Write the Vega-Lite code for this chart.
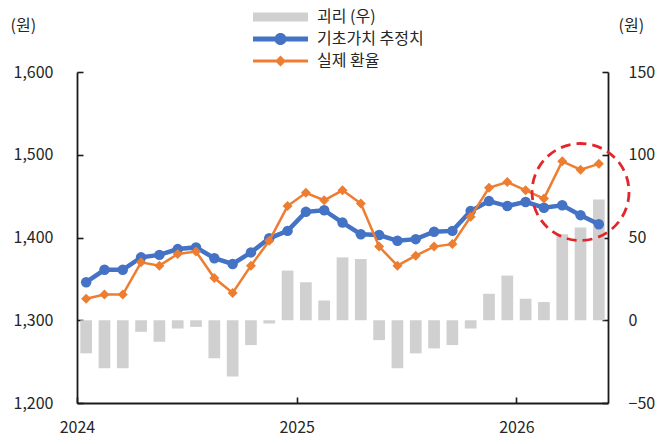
{
  "$schema": "https://vega.github.io/schema/vega-lite/v6.json",
  "width": 531,
  "height": 331,
  "autosize": {"type": "none"},
  "padding": {"left": 77, "top": 72, "right": 58, "bottom": 41},
  "background": "white",
  "config": {
    "font": "Noto Sans CJK KR",
    "view": {"stroke": null},
    "axis": {
      "grid": false,
      "domainColor": "#1a1a1a",
      "domainWidth": 1.8,
      "tickColor": "#1a1a1a",
      "tickWidth": 1.6,
      "labelFont": "Noto Sans CJK KR",
      "labelFontSize": 16,
      "labelColor": "#262626",
      "titleFont": "Noto Sans CJK KR",
      "titleFontSize": 16,
      "titleFontWeight": "normal",
      "titleColor": "#262626"
    }
  },
  "data": {
    "values": [
      {"month": "2024-01", "fund": 1346, "actual": 1326, "gap": -20},
      {"month": "2024-02", "fund": 1361, "actual": 1331, "gap": -29},
      {"month": "2024-03", "fund": 1361, "actual": 1331, "gap": -29},
      {"month": "2024-04", "fund": 1376, "actual": 1370, "gap": -7},
      {"month": "2024-05", "fund": 1379, "actual": 1366, "gap": -13},
      {"month": "2024-06", "fund": 1386, "actual": 1380, "gap": -5},
      {"month": "2024-07", "fund": 1388, "actual": 1383, "gap": -4},
      {"month": "2024-08", "fund": 1375, "actual": 1351, "gap": -23},
      {"month": "2024-09", "fund": 1368, "actual": 1333, "gap": -34},
      {"month": "2024-10", "fund": 1382, "actual": 1366, "gap": -15},
      {"month": "2024-11", "fund": 1399, "actual": 1396, "gap": -2},
      {"month": "2024-12", "fund": 1408, "actual": 1438, "gap": 30},
      {"month": "2025-01", "fund": 1431, "actual": 1454, "gap": 23},
      {"month": "2025-02", "fund": 1433, "actual": 1445, "gap": 12},
      {"month": "2025-03", "fund": 1418, "actual": 1457, "gap": 38},
      {"month": "2025-04", "fund": 1404, "actual": 1441, "gap": 37},
      {"month": "2025-05", "fund": 1403, "actual": 1389, "gap": -12},
      {"month": "2025-06", "fund": 1396, "actual": 1366, "gap": -29},
      {"month": "2025-07", "fund": 1398, "actual": 1378, "gap": -20},
      {"month": "2025-08", "fund": 1407, "actual": 1389, "gap": -17},
      {"month": "2025-09", "fund": 1408, "actual": 1392, "gap": -15},
      {"month": "2025-10", "fund": 1432, "actual": 1425, "gap": -5},
      {"month": "2025-11", "fund": 1444, "actual": 1460, "gap": 16},
      {"month": "2025-12", "fund": 1438, "actual": 1467, "gap": 27},
      {"month": "2026-01", "fund": 1443, "actual": 1457, "gap": 13},
      {"month": "2026-02", "fund": 1436, "actual": 1447, "gap": 11},
      {"month": "2026-03", "fund": 1439, "actual": 1492, "gap": 52},
      {"month": "2026-04", "fund": 1427, "actual": 1482, "gap": 56},
      {"month": "2026-05", "fund": 1416, "actual": 1489, "gap": 73}
    ]
  },
  "encoding": {
    "x": {
      "field": "month",
      "type": "ordinal",
      "scale": {"paddingInner": 0.36, "paddingOuter": 0.18},
      "axis": {
        "values": ["2024-01", "2025-01", "2026-01"],
        "labelExpr": "slice(datum.value, 0, 4)",
        "tickOffset": -9.16,
        "tickSize": -6,
        "labelAngle": 0,
        "labelPadding": 22,
        "title": null
      }
    }
  },
  "layer": [
    {
      "mark": {"type": "bar"},
      "encoding": {
        "y": {
          "field": "gap",
          "type": "quantitative",
          "scale": {"domain": [-50, 150]},
          "axis": {
            "orient": "right",
            "values": [-50, 0, 50, 100, 150],
            "format": "d",
            "tickSize": -6,
            "labelPadding": 26,
            "title": "(원)",
            "titleAngle": 0,
            "titleAlign": "left",
            "titleBaseline": "middle",
            "titleX": 10,
            "titleY": -47
          }
        },
        "color": {
          "datum": "괴리 (우)",
          "scale": {
            "domain": ["괴리 (우)", "기초가치 추정치", "실제 환율"],
            "range": ["#D0D0D0", "#4472C4", "#ED7D31"]
          },
          "legend": {
            "orient": "none",
            "legendX": 176,
            "legendY": -66,
            "title": null,
            "symbolSize": 3025,
            "clipHeight": 22,
            "rowPadding": 0,
            "labelFontSize": 16,
            "labelOffset": 9,
            "labelFont": "Noto Sans CJK KR",
            "labelColor": "#262626",
            "encode": {
              "symbols": {
                "update": {
                  "shape": {"signal": "datum.value === '괴리 (우)' ? 'M-1,-0.16H1V0.16H-1Z' : datum.value === '기초가치 추정치' ? 'M-1,-0.09H1V0.09H-1Z M0.22,0A0.22,0.22 0 1 1 -0.22,0A0.22,0.22 0 1 1 0.22,0Z' : 'M-1,-0.055H1V0.055H-1Z M0,-0.2L0.2,0L0,0.2L-0.2,0Z'"},
                  "fill": {"scale": "color", "field": "value"},
                  "stroke": {"value": "transparent"},
                  "strokeWidth": {"value": 0},
                  "opacity": {"value": 1}
                }
              }
            }
          }
        }
      }
    },
    {
      "layer": [
        {
          "mark": {"type": "line", "strokeWidth": 4.5, "point": {"filled": true, "size": 110, "shape": "circle"}},
          "encoding": {
            "y": {
              "field": "fund",
              "type": "quantitative",
              "scale": {"domain": [1200, 1600]},
              "axis": {
                "orient": "left",
                "values": [1200, 1300, 1400, 1500, 1600],
                "format": ",d",
                "tickSize": -6,
                "labelPadding": 30,
                "title": "(원)",
                "titleAngle": 0,
                "titleAlign": "left",
                "titleBaseline": "middle",
                "titleX": -67,
                "titleY": -47
              }
            },
            "color": {"datum": "기초가치 추정치"}
          }
        },
        {
          "mark": {"type": "line", "strokeWidth": 2.5, "point": {"filled": true, "size": 100, "shape": "diamond"}},
          "encoding": {
            "y": {
              "field": "actual",
              "type": "quantitative",
              "axis": {
                "orient": "left",
                "values": [1200, 1300, 1400, 1500, 1600],
                "format": ",d",
                "tickSize": -6,
                "labelPadding": 30,
                "title": "(원)",
                "titleAngle": 0,
                "titleAlign": "left",
                "titleBaseline": "middle",
                "titleX": -67,
                "titleY": -47
              }
            },
            "color": {"datum": "실제 환율"}
          }
        },
        {
          "data": {"values": [{"month": "2026-04", "level": 1455}]},
          "mark": {"type": "point", "shape": "circle", "size": 9400, "filled": false, "stroke": "#E3262B", "strokeWidth": 2.8, "strokeDash": [10, 6], "opacity": 1},
          "encoding": {
            "y": {
              "field": "level",
              "type": "quantitative",
              "axis": {
                "orient": "left",
                "values": [1200, 1300, 1400, 1500, 1600],
                "format": ",d",
                "tickSize": -6,
                "labelPadding": 30,
                "title": "(원)",
                "titleAngle": 0,
                "titleAlign": "left",
                "titleBaseline": "middle",
                "titleX": -67,
                "titleY": -47
              }
            }
          }
        }
      ]
    }
  ],
  "resolve": {"scale": {"y": "independent"}}
}
